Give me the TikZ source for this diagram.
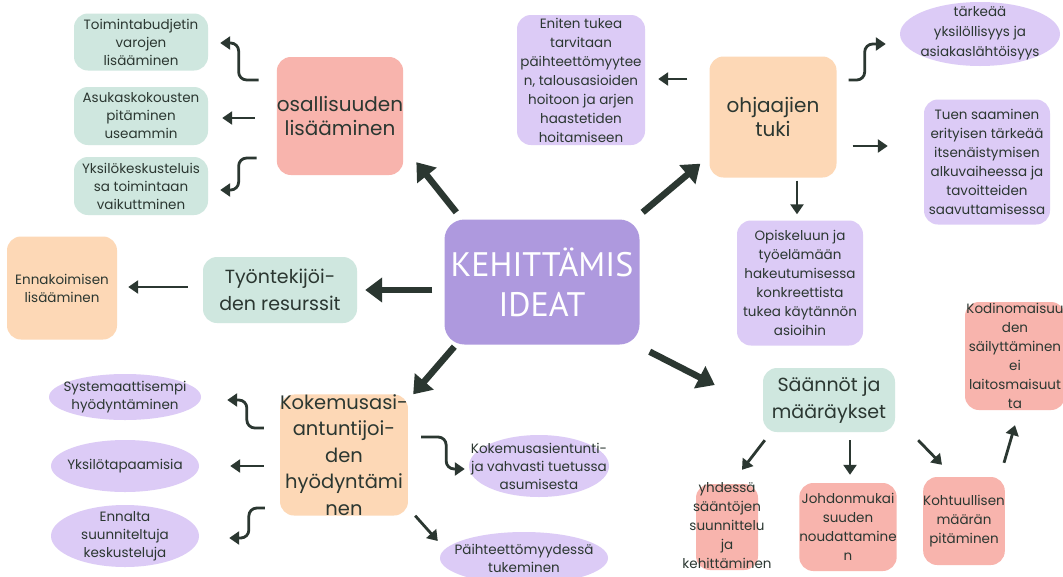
\documentclass[tikz,border=0pt]{standalone}
\usepackage{fontspec}
\setmainfont{Poppins}
\newfontfamily\cenfont{PT Sans}
\usetikzlibrary{arrows.meta,calc,shapes.geometric}
\definecolor{mint}{HTML}{CFE7DF}
\definecolor{pinkc}{HTML}{F8B4AD}
\definecolor{peach}{HTML}{FDD8B6}
\definecolor{lav}{HTML}{DCCBF6}
\definecolor{cenc}{HTML}{AE99DE}
\definecolor{ink}{HTML}{2B3731}
\begin{document}
\begin{tikzpicture}[x=1pt,y=-1pt,
 box/.style={rounded corners=14pt, inner sep=0pt, align=center, text=ink},
 ovl/.style={ellipse, fill=lav, inner sep=0pt},
 small/.style={font=\fontsize{13.5}{18}\selectfont},
 smallb/.style={font=\fontsize{13.5}{19}\selectfont},
 big/.style={font=\fontsize{20}{24}\selectfont},
 ovltext/.style={text=ink, align=center, inner sep=0pt, small},
 bigarrow/.style={draw=ink, line width=6.5pt, -{Triangle[length=17pt,width=24pt]}},
 thinarrow/.style={draw=ink, line width=2.8pt, rounded corners=8pt, -{Triangle[length=10pt,width=13pt]}},
]
\useasboundingbox (0,0) rectangle (1063,576);
\clip (0,0) rectangle (1063,576);
\fill[white] (0,0) rectangle (1063,576);

% centre
\node[box, fill=cenc, rounded corners=20pt, minimum width=195pt, minimum height=125pt, text=white, font=\cenfont\fontsize{34}{40}\selectfont] (cen) at (542,282) {KEHITTÄMIS\\IDEAT};

% left top
\node[box, fill=pinkc, minimum width=120pt, minimum height=118pt, big] (osal) at (340,116) {osallisuuden\\lisääminen};
\node[box, fill=mint, minimum width=134pt, minimum height=57pt, small] (toim) at (141,42) {Toimintabudjetin\\varojen\\lisääminen};
\node[box, fill=mint, minimum width=134pt, minimum height=58pt, small] (asuk) at (141,116) {Asukaskokousten\\pitäminen\\useammin};
\node[box, fill=mint, minimum width=134pt, minimum height=58pt, small] (yksk) at (141,186) {Yksilökeskusteluis\\sa toimintaan\\vaikuttminen};

% left middle
\node[box, fill=mint, minimum width=154pt, minimum height=66pt, font=\fontsize{19}{27}\selectfont] (tyon) at (280,290) {Työntekijöi-\\den resurssit};
\node[box, fill=peach, minimum width=110pt, minimum height=103pt, small] (enna) at (62,288) {Ennakoimisen\\lisääminen};

% left bottom
\node[box, fill=peach, minimum width=122pt, minimum height=120pt, font=\fontsize{19.5}{26.5}\selectfont] (koke) at (344,455) {Kokemusasi-\\antuntijoi-\\den\\hyödyntämi\\nen};
\node[ovl, minimum width=152pt, minimum height=46pt] (syst) at (125,397) {};
\node[ovltext] at (syst.center) {Systemaattisempi\\hyödyntäminen};
\node[ovl, minimum width=148pt, minimum height=52pt] (yksi) at (125,466) {};
\node[ovltext] at (yksi.center) {Yksilötapaamisia};
\node[ovl, minimum width=148pt, minimum height=62pt] (ennl) at (125,536) {};
\node[ovltext] at (ennl.center) {Ennalta\\suunniteltuja\\keskusteluja};
\node[ovl, minimum width=140pt, minimum height=62pt] (koas) at (539,466) {};
\node[ovltext] at (koas.center) {Kokemusasientunti-\\ja vahvasti tuetussa\\asumisesta};
\node[ovl, minimum width=168pt, minimum height=52pt] (paih) at (524,558) {};
\node[ovltext] at (paih.center) {Päihteettömyydessä\\tukeminen};

% right top
\node[box, fill=peach, minimum width=127pt, minimum height=121pt, big] (ohja) at (773,117) {ohjaajien\\tuki};
\node[box, fill=lav, minimum width=128pt, minimum height=130pt, smallb] (enit) at (581,80) {Eniten tukea\\tarvitaan\\päihteettömyytee\\n, talousasioiden\\hoitoon ja arjen\\haastetiden\\hoitamiseen};
\node[ovl, minimum width=160pt, minimum height=64pt] (tark) at (980,34) {};
\node[ovltext, font=\fontsize{13.5}{20}\selectfont] at (980,33) {tärkeää\\yksilöllisyys ja\\asiakaslähtöisyys};
\node[box, fill=lav, minimum width=126pt, minimum height=125pt, smallb] (tuen) at (987,162) {Tuen saaminen\\erityisen tärkeää\\itsenäistymisen\\alkuvaiheessa ja\\tavoitteiden\\saavuttamisessa};
\node[box, fill=lav, minimum width=126pt, minimum height=125pt, smallb] (opis) at (800,283) {Opiskeluun ja\\työelämään\\hakeutumisessa\\konkreettista\\tukea käytännön\\asioihin};

% right bottom
\node[box, fill=mint, minimum width=132pt, minimum height=64pt, font=\fontsize{19}{27}\selectfont] (saan) at (829,400) {Säännöt ja\\määräykset};
\node[box, fill=pinkc, minimum width=62pt, minimum height=86pt] (yhde) at (727,527) {};
\node[text=ink, align=center, inner sep=0pt, smallb] (yhdet) at (727,526) {yhdessä\\sääntöjen\\suunnittelu\\ja\\kehittäminen};
\node[box, fill=pinkc, minimum width=74pt, minimum height=88pt, smallb] (johd) at (848,527) {Johdonmukai\\suuden\\noudattamine\\n};
\node[box, fill=pinkc, minimum width=74pt, minimum height=88pt, smallb] (koht) at (964,521) {Kohtuullisen\\määrän\\pitäminen};
\node[box, fill=pinkc, minimum width=100pt, minimum height=108pt, smallb] (kodi) at (1015,356) {Kodinomaisuu\\den\\säilyttäminen\\ei\\laitosmaisuut\\ta};

% thick arrows from centre
\draw[bigarrow] ($(cen.north west)+(12,-7)$) -- ($(osal.south east)+(13,-13)$);
\draw[bigarrow] ($(cen.north east)+(3,-7)$) -- ($(ohja.south west)+(-9,-14)$);
\draw[bigarrow] ($(cen.west)+(-12,8)$) -- ($(tyon.east)+(8,0)$);
\draw[bigarrow] ($(cen.south west)+(10,2)$) -- ($(koke.north east)+(5,0)$);
\draw[bigarrow] ($(cen.south east)+(10,7)$) -- ($(saan.west)+(-48,-15)$);

% thin arrows
\draw[thinarrow] ($(osal.west)+(-18,-36)$) -- ++(-20,0) |- ($(toim.east)+(12,1)$);
\draw[thinarrow] ($(osal.west)+(-22,2)$) -- ($(asuk.east)+(14,2)$);
\draw[thinarrow] ($(osal.west)+(-20,42)$) -- ++(-18,0) |- ($(yksk.east)+(12,4)$);
\draw[thinarrow] ($(tyon.west)+(-15,-3)$) -- ($(enna.east)+(11,-1)$);
\draw[thinarrow] ($(koke.west)+(-16,-27)$) -- ++(-17,0) |- ($(syst.east)+(26,3)$);
\draw[thinarrow] ($(koke.west)+(-16,11)$) -- ($(yksi.east)+(31,0)$);
\draw[thinarrow] ($(koke.west)+(-15,53)$) -- ++(-16,0) |- ($(ennl.east)+(30,2)$);
\draw[thinarrow] ($(koke.east)+(13,-18)$) -- ++(25,0) |- ($(koas.west)+(-4,3)$);
\draw[thinarrow] ($(koke.south east)+(7,0)$) -- ($(paih.west)+(-2,-17)$);
\draw[thinarrow] ($(ohja.west)+(-22,-38)$) -- ($(enit.east)+(13,-1)$);
\draw[thinarrow] ($(ohja.east)+(12,-37)$) -- ++(16,0) |- ($(tark.west)+(-14,10)$);
\draw[thinarrow] ($(ohja.east)+(16,29)$) -- ($(tuen.west)+(-36,-16)$);
\draw[thinarrow] ($(ohja.south)+(24,3)$) -- ($(opis.north)+(-3,-6)$);
\draw[thinarrow] ($(saan.south west)+(2,8)$) -- ($(yhde.north)+(15,-14)$);
\draw[thinarrow] ($(saan.south)+(21,8)$) -- ($(johd.north)+(2,-8)$);
\draw[thinarrow] ($(saan.south east)+(23,8)$) -- ($(koht.north)+(-22,-12)$);
\draw[thinarrow] ($(koht.north east)+(-1,-14)$) -- ($(kodi.south)+(0,15)$);
\end{tikzpicture}
\end{document}
